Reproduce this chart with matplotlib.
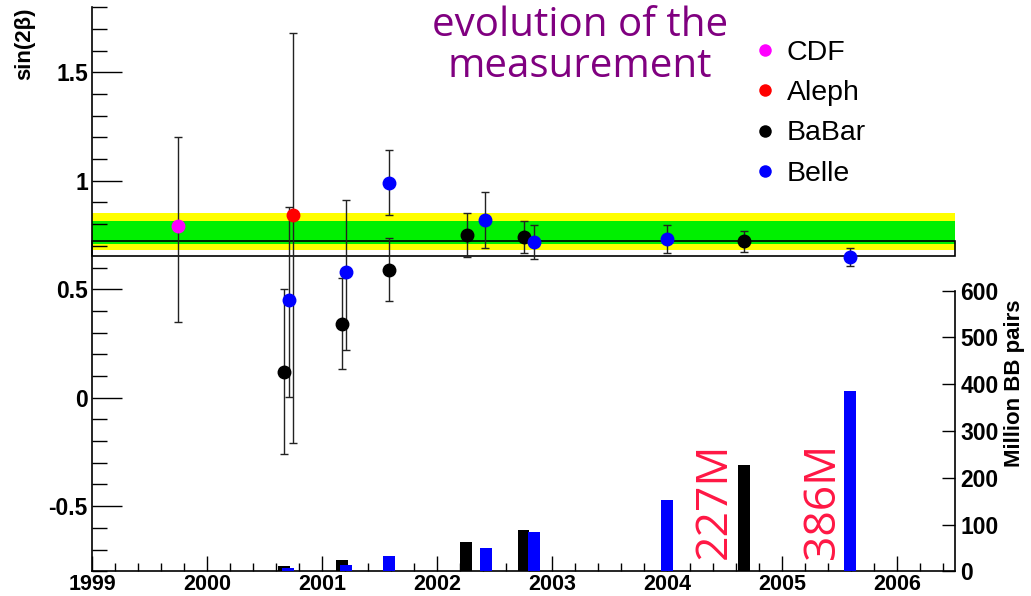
import matplotlib
matplotlib.use("Agg")
import matplotlib.pyplot as plt
from matplotlib.ticker import MultipleLocator, FixedLocator, FuncFormatter, NullLocator
from matplotlib.lines import Line2D
from matplotlib.patches import Rectangle

plt.rcParams['font.family'] = ['Liberation Sans', 'DejaVu Sans']

# ---- data: sin(2beta) measurements ----
cdf_x = [1999.75]
cdf_y = [0.79]
cdf_up = [0.41]
cdf_dn = [0.44]

aleph_x = [2000.745]
aleph_y = [0.84]
aleph_up = [0.84]
aleph_dn = [1.05]

babar_x = [2000.667, 2001.17, 2001.58, 2002.255, 2002.75, 2004.67]
babar_y = [0.12, 0.34, 0.59, 0.75, 0.74, 0.72]
babar_err = [0.38, 0.21, 0.146, 0.10, 0.074, 0.047]

belle_x = [2000.713, 2001.21, 2001.58, 2002.417, 2002.84, 2004.0, 2005.59]
belle_y = [0.45, 0.58, 0.99, 0.82, 0.717, 0.732, 0.65]
belle_up = [0.43, 0.33, 0.15, 0.13, 0.08, 0.066, 0.042]
belle_dn = [0.445, 0.36, 0.15, 0.13, 0.08, 0.066, 0.042]

# ---- world average bands ----
yellow_band = (0.679, 0.852)
green_band = (0.706, 0.815)
avg_box = (0.652, 0.720)

# ---- data: luminosity (million BB pairs) ----
babar_bar_x = [2000.67, 2001.17, 2002.25, 2002.75, 2004.67]
babar_bar_v = [11, 24, 62, 89, 227]
belle_bar_x = [2000.705, 2001.21, 2001.58, 2002.42, 2002.84, 2004.0, 2005.59]
belle_bar_v = [7, 13, 32, 50, 84, 152, 386]

legend_labels = ['CDF', 'Aleph', 'BaBar', 'Belle']
legend_colors = ['#ff00ff', '#ff0000', '#000000', '#0000ff']

W, H = 1031, 596
fig = plt.figure(figsize=(W / 100, H / 100), dpi=100)
ax = fig.add_axes([92 / W, (H - 571.3) / H, (955 - 92) / W, (571.3 - 7.1) / H])
ax.set_xlim(1999, 2006.5)
ax.set_ylim(-0.8, 1.8)

# bands
ax.axhspan(*yellow_band, color='#ffff00', lw=0, zorder=1)
ax.axhspan(*green_band, color='#00f000', lw=0, zorder=1.1)
ax.add_patch(Rectangle((1999, avg_box[0]), 7.5, avg_box[1] - avg_box[0],
                       facecolor='none', edgecolor='black', lw=1.2, zorder=1.5,
                       clip_on=False))

ekw = dict(fmt='o', ms=9, elinewidth=1.0, ecolor='#222222', capsize=3.2,
           capthick=1.0, zorder=3)
for xs, ys, err, col in [(cdf_x, cdf_y, [cdf_dn, cdf_up], legend_colors[0]),
                         (babar_x, babar_y, babar_err, legend_colors[2]),
                         (belle_x, belle_y, [belle_dn, belle_up], legend_colors[3]),
                         (aleph_x, aleph_y, [aleph_dn, aleph_up], legend_colors[1])]:
    ax.errorbar(xs, ys, yerr=err, color=col, mfc=col, mec=col, **ekw)

for s in ['top', 'right']:
    ax.spines[s].set_visible(False)
for s in ['left', 'bottom']:
    ax.spines[s].set_linewidth(1.2)

ax.xaxis.set_major_locator(MultipleLocator(1))
ax.xaxis.set_minor_locator(MultipleLocator(0.2))
ax.yaxis.set_major_locator(MultipleLocator(0.5))
ax.yaxis.set_minor_locator(MultipleLocator(0.1))
ax.yaxis.set_major_formatter(FuncFormatter(lambda v, p: '%g' % v))
ax.xaxis.set_major_formatter(FuncFormatter(lambda v, p: '%d' % round(v)))
ax.tick_params(axis='y', which='major', direction='in', length=21.6, width=1.0, pad=3)
ax.tick_params(axis='y', which='minor', direction='in', length=10.8, width=1.0)
ax.tick_params(axis='x', which='major', direction='in', length=10.8, width=1.0, pad=2)
ax.tick_params(axis='x', which='minor', direction='in', length=5.8, width=1.0)
for lab in ax.get_yticklabels():
    lab.set_fontsize(16.5)
    lab.set_fontweight('bold')
for lab in ax.get_xticklabels():
    lab.set_fontsize(15.5)
    lab.set_fontweight('bold')

ax.set_ylabel('sin(2β)', fontsize=16, fontweight='bold', loc='top')
ax.yaxis.set_label_coords(-0.066, 1.0)

# twin axis for luminosity
ax2 = ax.twinx()
ax2.set_ylim(0, 1206)
ax2.bar(babar_bar_x, babar_bar_v, width=0.104, color='black', zorder=2)
ax2.bar(belle_bar_x, belle_bar_v, width=0.104, color='#0000ff', zorder=3)
for s in ['top', 'left', 'bottom']:
    ax2.spines[s].set_visible(False)
ax2.spines['right'].set_bounds(0, 600)
ax2.spines['right'].set_linewidth(1.2)
ax2.yaxis.set_major_locator(FixedLocator([0, 100, 200, 300, 400, 500, 600]))
ax2.yaxis.set_minor_locator(NullLocator())
ax2.tick_params(axis='y', which='major', direction='in', length=9.4, width=1.0, pad=4)
for lab in ax2.get_yticklabels():
    lab.set_fontsize(16.5)
    lab.set_fontweight('bold')

# annotations of the latest luminosities
for bx, bv, dx in [(babar_bar_x[-1], babar_bar_v[-1], -0.26), (belle_bar_x[-1], belle_bar_v[-1], -0.24)]:
    ax2.text(bx + dx, 150, '%dM' % bv, rotation=90, ha='center', va='center',
             fontsize=32, color='#ff1744', family=['Open Sans', 'DejaVu Sans'])

fig.text(1004 / W, 1 - 383 / H, 'Million BB pairs', rotation=90, ha='left', va='center',
         fontsize=16, fontweight='bold')

# title
fig.text(580 / W, 1 - 6 / H, 'evolution of the\nmeasurement', ha='center', va='top',
         color='#800080', fontsize=29, linespacing=1.0,
         family=['Open Sans', 'DejaVu Sans'])

# legend
handles = [Line2D([], [], marker='o', ls='none', color=c, ms=9, mew=0) for c in legend_colors]
leg = ax.legend(handles, legend_labels, loc='upper left',
                bbox_to_anchor=(751 / W, 1 - 40 / H), bbox_transform=fig.transFigure,
                frameon=False, fontsize=20.5, handlelength=1.0, handletextpad=0.26,
                labelspacing=0.5, borderpad=0, borderaxespad=0)

fig.savefig('out.png', dpi=100)
